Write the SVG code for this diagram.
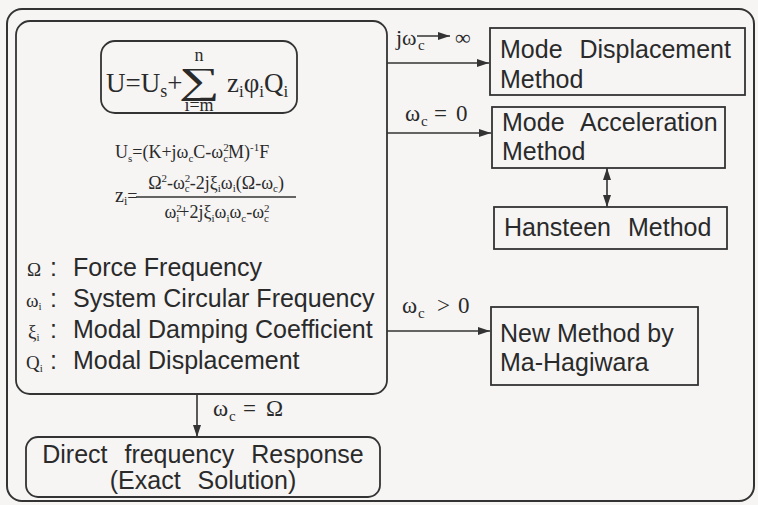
<svg xmlns="http://www.w3.org/2000/svg" width="758" height="505" viewBox="0 0 758 505">
<style>
  .frame{fill:none;stroke:#333;stroke-width:2}
  .box{fill:none;stroke:#333;stroke-width:1.8}
  .line{fill:none;stroke:#333;stroke-width:1.6}
  .sans{font-family:"Liberation Sans",Arial,Helvetica,sans-serif;font-size:25px;fill:#2a2a2a;word-spacing:10px}
  .serif{font-family:"Liberation Serif","Times New Roman","DejaVu Serif",serif;fill:#2a2a2a}
</style>
<defs>
  <marker id="ah" viewBox="0 0 12 8" refX="12" refY="4" markerWidth="12" markerHeight="8" markerUnits="userSpaceOnUse" orient="auto-start-reverse">
    <path d="M0,0 L12,4 L0,8 z" fill="#333"/>
  </marker>
</defs>
<rect x="0" y="0" width="758" height="505" fill="#f6f5f4"/>
<rect id="outer-frame" class="frame" x="7" y="9" width="747" height="492" rx="15"/>

<g id="main-box">
  <rect class="box" x="16" y="21" width="371" height="373" rx="14"/>
  <g id="formula-box">
    <rect class="box" x="101" y="41" width="196" height="72" rx="14"/>
    <text class="serif" x="106" y="92" font-size="27">U=U<tspan font-size="18" dy="5">s</tspan><tspan dy="-5">+</tspan></text>
    <text class="serif" x="0" y="0" font-size="37" text-anchor="middle" transform="translate(199,93) scale(1.55,1)">∑</text>
    <text class="serif" x="199" y="61" font-size="18" text-anchor="middle">n</text>
    <text class="serif" x="199" y="111" font-size="18" text-anchor="middle">i=m</text>
    <text class="serif" x="227" y="92" font-size="27">z<tspan font-size="17" dy="5">i</tspan><tspan dy="-5">φ</tspan><tspan font-size="17" dy="5">i</tspan><tspan dy="-5">Q</tspan><tspan font-size="17" dy="5">i</tspan></text>
  </g>
  <text class="serif" x="115" y="158" font-size="18">U<tspan font-size="11" dy="4">s</tspan><tspan dy="-4">=(K+jω</tspan><tspan font-size="11" dy="4">c</tspan><tspan dy="-4">C-ω</tspan><tspan font-size="11" dy="-7">2</tspan><tspan font-size="11" dx="-5.5" dy="11">c</tspan><tspan dy="-4">M)</tspan><tspan font-size="11" dy="-7">-1</tspan><tspan dy="7">F</tspan></text>
  <text class="serif" x="115" y="202" font-size="20">z<tspan font-size="12" dy="3">i</tspan><tspan dy="-3" font-size="18">=</tspan></text>
  <line class="line" x1="136" y1="197" x2="296" y2="197" stroke-width="1.3"/>
  <text class="serif" x="216" y="189" font-size="18" text-anchor="middle">Ω<tspan font-size="11" dy="-7">2</tspan><tspan dy="7">-ω</tspan><tspan font-size="11" dy="-7">2</tspan><tspan font-size="11" dx="-5.5" dy="10">c</tspan><tspan dy="-3">-2jξ</tspan><tspan font-size="11" dy="3">i</tspan><tspan dy="-3">ω</tspan><tspan font-size="11" dy="3">i</tspan><tspan dy="-3">(Ω-ω</tspan><tspan font-size="11" dy="3">c</tspan><tspan dy="-3">)</tspan></text>
  <text class="serif" x="217" y="218" font-size="18" text-anchor="middle">ω<tspan font-size="11" dy="-6">2</tspan><tspan font-size="11" dx="-5.5" dy="10">i</tspan><tspan dy="-4">+2jξ</tspan><tspan font-size="11" dy="4">i</tspan><tspan dy="-4">ω</tspan><tspan font-size="11" dy="4">i</tspan><tspan dy="-4">ω</tspan><tspan font-size="11" dy="4">c</tspan><tspan dy="-4">-ω</tspan><tspan font-size="11" dy="-6">2</tspan><tspan font-size="11" dx="-5.5" dy="10">c</tspan></text>

  <g id="legend">
    <text class="serif" x="27" y="276" font-size="19">Ω</text>
    <text class="serif" x="26" y="307" font-size="19">ω<tspan font-size="11" dy="3">i</tspan></text>
    <text class="serif" x="28" y="338" font-size="19">ξ<tspan font-size="11" dy="3">i</tspan></text>
    <text class="serif" x="26" y="369" font-size="19">Q<tspan font-size="11" dy="3">i</tspan></text>
    <text class="sans" x="50" y="276">:</text>
    <text class="sans" x="50" y="307">:</text>
    <text class="sans" x="50" y="338">:</text>
    <text class="sans" x="50" y="369">:</text>
    <text class="sans" x="73" y="276" style="word-spacing:0">Force Frequency</text>
    <text class="sans" x="73" y="307" style="word-spacing:0">System Circular Frequency</text>
    <text class="sans" x="73" y="338" style="word-spacing:0">Modal Damping Coefficient</text>
    <text class="sans" x="73" y="369" style="word-spacing:0">Modal Displacement</text>
  </g>
</g>

<g id="mode-displacement">
  <rect class="box" x="490" y="28" width="255" height="67"/>
  <text class="sans" x="500" y="58">Mode Displacement</text>
  <text class="sans" x="500" y="88">Method</text>
</g>
<g id="mode-acceleration">
  <rect class="box" x="492" y="107" width="233" height="61"/>
  <text class="sans" x="502" y="131">Mode Acceleration</text>
  <text class="sans" x="502" y="160">Method</text>
</g>
<g id="hansteen">
  <rect class="box" x="494" y="207" width="233" height="42"/>
  <text class="sans" x="504" y="236">Hansteen Method</text>
</g>
<g id="new-method">
  <rect class="box" x="491" y="307" width="207" height="78"/>
  <text class="sans" x="500" y="342" style="word-spacing:0">New Method by</text>
  <text class="sans" x="500" y="371">Ma-Hagiwara</text>
</g>
<g id="direct">
  <rect class="box" x="26" y="437" width="354" height="60" rx="12"/>
  <text class="sans" x="203" y="463" text-anchor="middle">Direct frequency Response</text>
  <text class="sans" x="203" y="489" text-anchor="middle">(Exact Solution)</text>
</g>

<g id="connectors">
  <line class="line" x1="387" y1="63" x2="489" y2="63" marker-end="url(#ah)"/>
  <line class="line" x1="387" y1="133" x2="491" y2="133" marker-end="url(#ah)"/>
  <line class="line" x1="607" y1="168" x2="607" y2="207" marker-start="url(#ah)" marker-end="url(#ah)"/>
  <line class="line" x1="387" y1="331" x2="490" y2="331" marker-end="url(#ah)"/>
  <line class="line" x1="197" y1="394" x2="197" y2="437" marker-end="url(#ah)"/>
  <line class="line" x1="417" y1="36" x2="450" y2="36" stroke-width="1.3" marker-end="url(#ah)"/>
</g>

<g id="labels">
  <text class="serif" x="396" y="45" font-size="22">jω</text>
  <text class="serif" x="418" y="50" font-size="15">c</text>
  <text class="serif" x="455" y="45" font-size="22">∞</text>
  <text class="serif" x="405" y="121" font-size="23">ω</text>
  <text class="serif" x="421" y="126" font-size="15">c</text>
  <text class="serif" x="434" y="121" font-size="23">=</text>
  <text class="serif" x="456" y="121" font-size="23">0</text>
  <text class="serif" x="402" y="313" font-size="23">ω</text>
  <text class="serif" x="418" y="318" font-size="15">c</text>
  <text class="serif" x="437" y="313" font-size="23">&gt;</text>
  <text class="serif" x="458" y="313" font-size="23">0</text>
  <text class="serif" x="213" y="416" font-size="23">ω</text>
  <text class="serif" x="229" y="421" font-size="15">c</text>
  <text class="serif" x="243" y="416" font-size="23">=</text>
  <text class="serif" x="266" y="416" font-size="23">Ω</text>
</g>
</svg>
